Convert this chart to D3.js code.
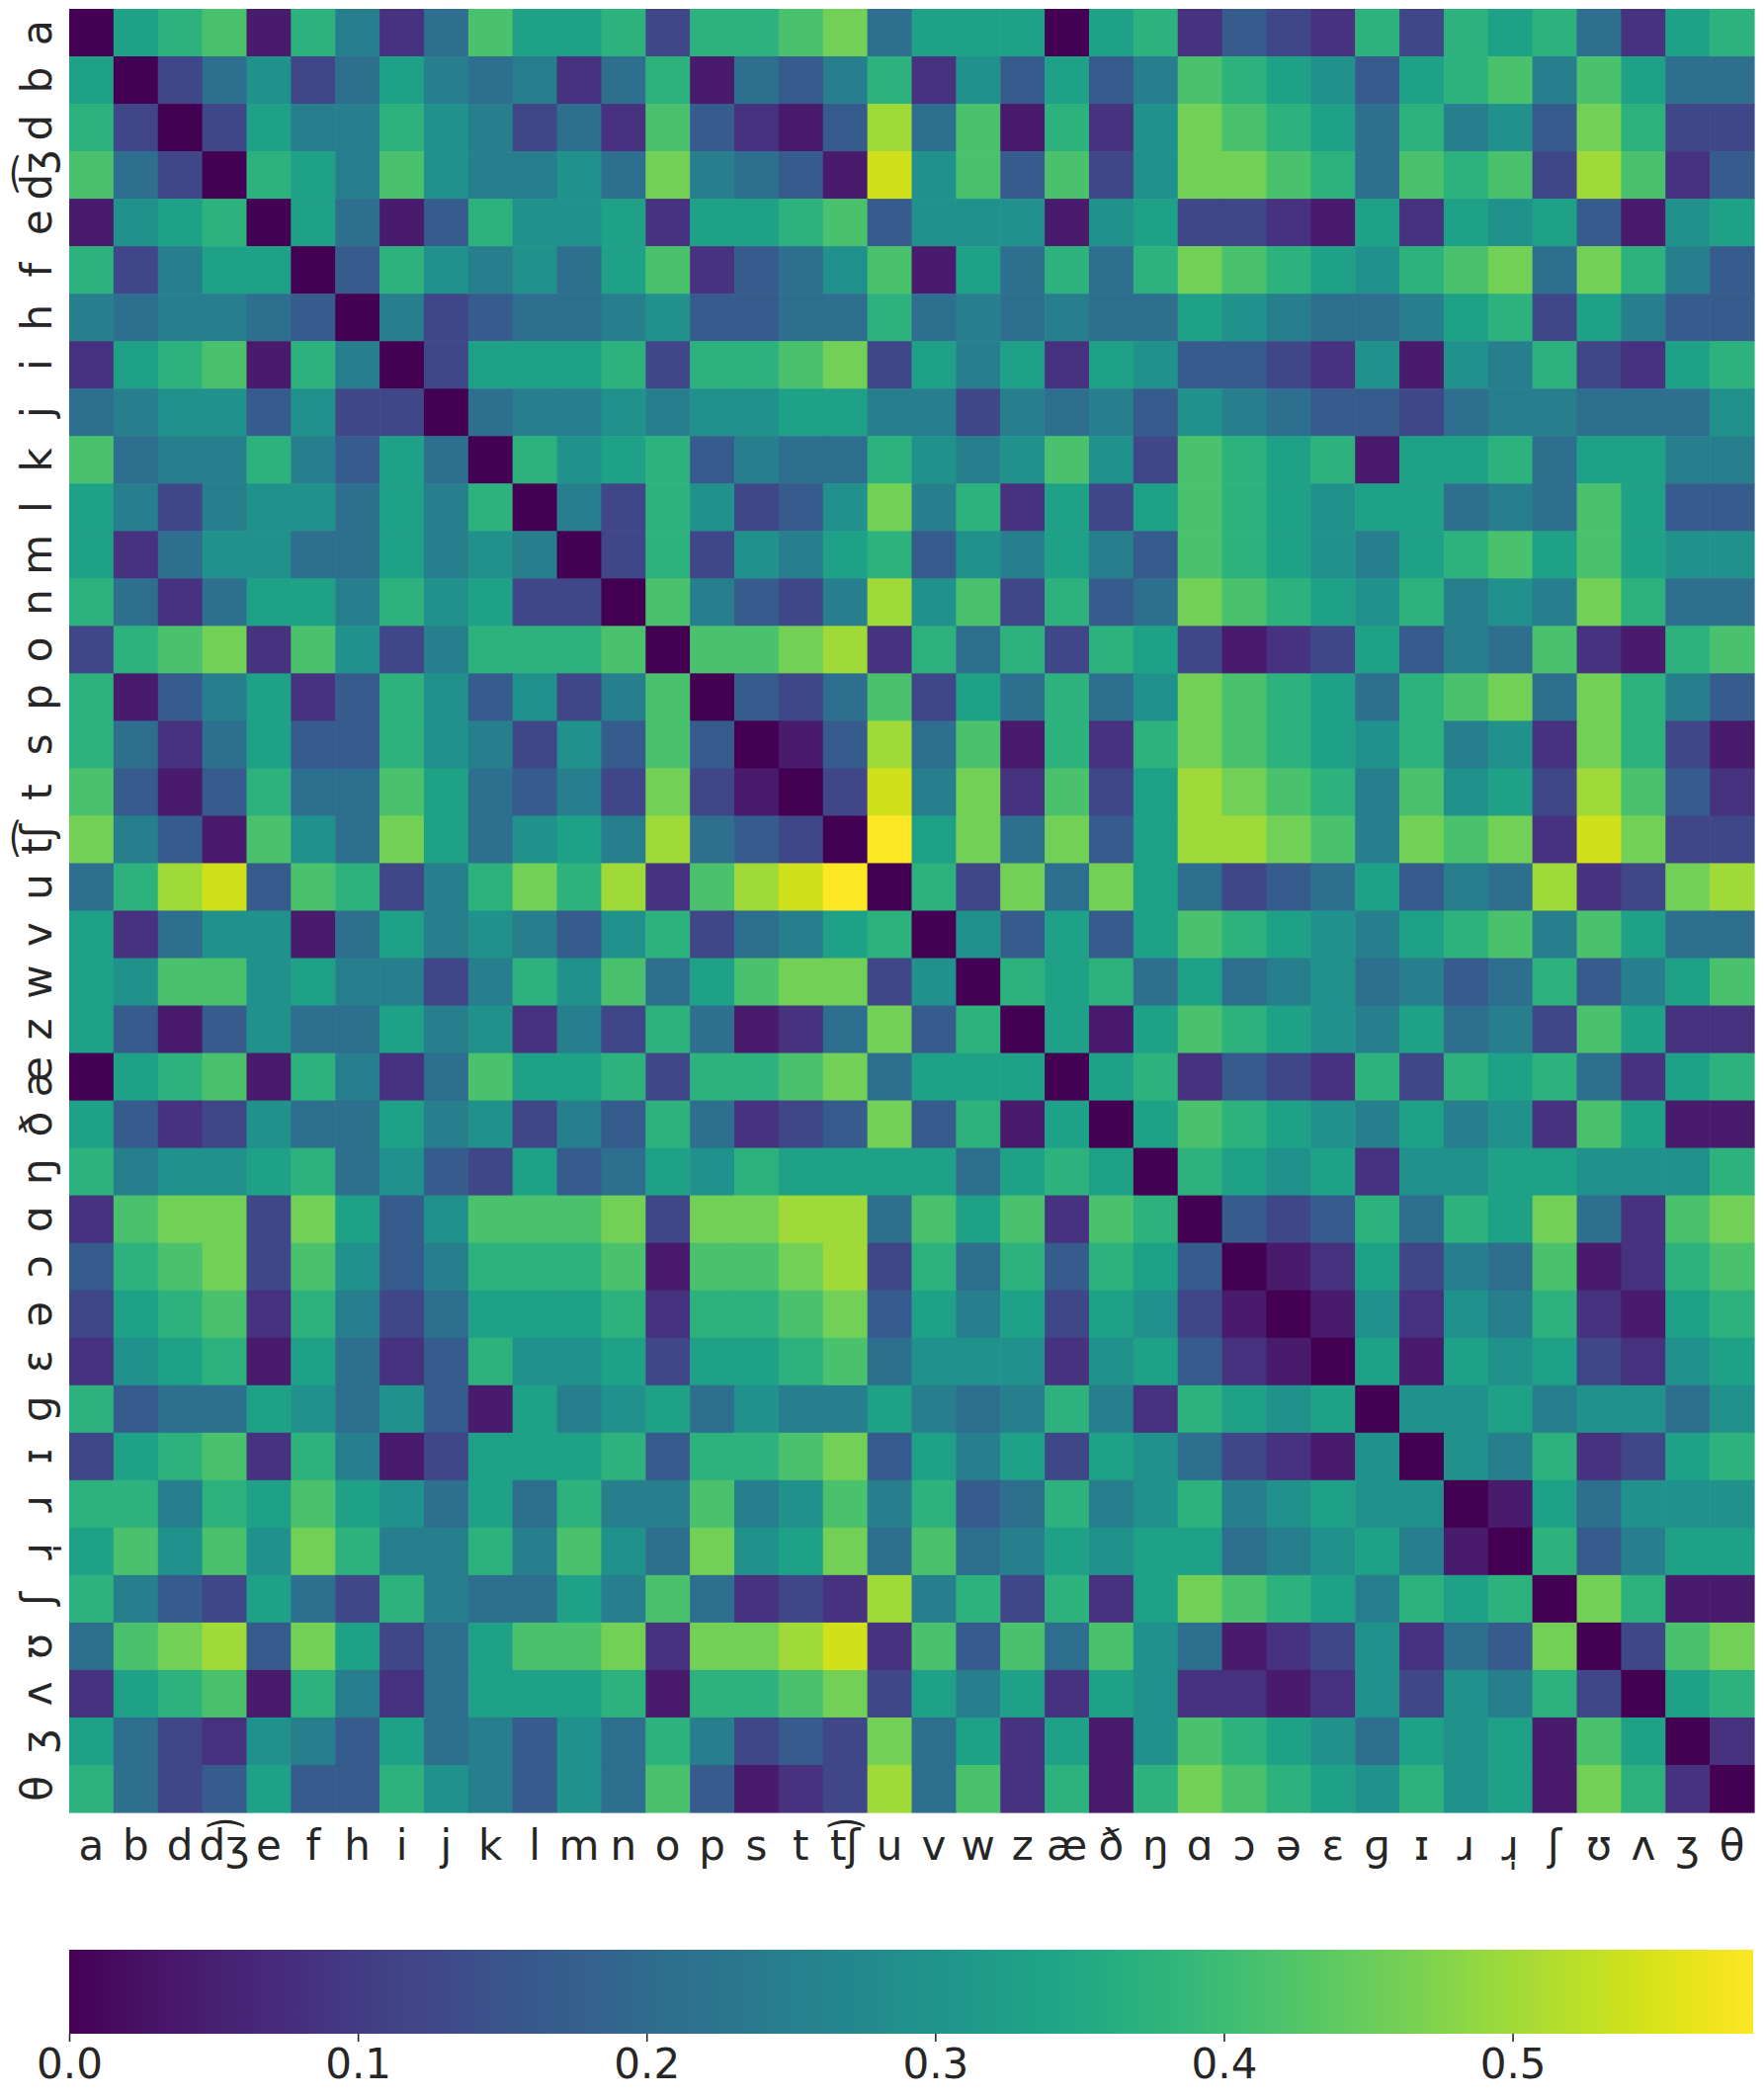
<!DOCTYPE html>
<html>
<head>
<meta charset="utf-8">
<script src="https://cdn.jsdelivr.net/npm/d3@7"></script>
<style>
  body { margin: 0; background: #ffffff; }
  text { font-family: "DejaVu Sans", sans-serif; fill: #262626; }
</style>
</head>
<body>
<script>

// ================================ data
// IPA segments, same order on rows and columns
var phones = ["a", "b", "d", "d\u0361\u0292", "e", "f", "h", "i", "j", "k", "l", "m", "n",
  "o", "p", "s", "t", "t\u0361\u0283", "u", "v", "w", "z", "\u00e6", "\u00f0", "\u014b", "\u0251",
  "\u0254", "\u0259", "\u025b", "\u0261", "\u026a", "\u0279", "\u0279\u0329", "\u0283", "\u028a",
  "\u028c", "\u0292", "\u03b8"];

// number of differing features (out of 24), lower triangle incl. diagonal
// matrix is symmetric so the upper half is the mirror of this
var nFeatures = 24;
var diffLower = [
  [0],
  [8, 0],
  [9, 3, 0],
  [10, 5, 3, 0],
  [1, 7, 8, 9, 0],
  [9, 3, 6, 8, 8, 0],
  [6, 5, 6, 6, 5, 4, 0],
  [2, 8, 9, 10, 1, 9, 6, 0],
  [5, 6, 7, 7, 4, 7, 3, 3, 0],
  [10, 5, 6, 6, 9, 6, 4, 8, 5, 0],
  [8, 6, 3, 6, 7, 7, 5, 8, 6, 9, 0],
  [8, 2, 5, 7, 7, 5, 5, 8, 6, 7, 6, 0],
  [9, 5, 2, 5, 8, 8, 6, 9, 7, 8, 3, 3, 0],
  [3, 9, 10, 11, 2, 10, 7, 3, 6, 9, 9, 9, 10, 0],
  [9, 1, 4, 6, 8, 2, 4, 9, 7, 4, 7, 3, 6, 10, 0],
  [9, 5, 2, 5, 8, 4, 4, 9, 7, 6, 3, 7, 4, 10, 4, 0],
  [10, 4, 1, 4, 9, 5, 5, 10, 8, 5, 4, 6, 3, 11, 3, 1, 0],
  [11, 6, 4, 1, 10, 7, 5, 11, 8, 5, 7, 8, 6, 12, 5, 4, 3, 0],
  [5, 9, 12, 13, 4, 10, 9, 3, 6, 9, 11, 9, 12, 2, 10, 12, 13, 14, 0],
  [8, 2, 5, 7, 7, 1, 5, 8, 6, 7, 6, 4, 7, 9, 3, 5, 6, 8, 9, 0],
  [8, 7, 10, 10, 7, 8, 6, 6, 3, 6, 9, 7, 10, 5, 8, 10, 11, 11, 3, 7, 0],
  [8, 4, 1, 4, 7, 5, 5, 8, 6, 7, 2, 6, 3, 9, 5, 1, 2, 5, 11, 4, 9, 0],
  [0, 8, 9, 10, 1, 9, 6, 2, 5, 10, 8, 8, 9, 3, 9, 9, 10, 11, 5, 8, 8, 8, 0],
  [8, 4, 2, 3, 7, 5, 5, 8, 6, 7, 3, 6, 4, 9, 5, 2, 3, 4, 11, 4, 9, 1, 8, 0],
  [9, 6, 7, 7, 8, 9, 5, 7, 4, 3, 8, 4, 5, 8, 7, 9, 8, 8, 8, 8, 5, 8, 9, 8, 0],
  [2, 10, 11, 11, 3, 11, 8, 4, 7, 10, 10, 10, 11, 3, 11, 11, 12, 12, 5, 10, 8, 10, 2, 10, 9, 0],
  [4, 9, 10, 11, 3, 10, 7, 4, 6, 9, 9, 9, 10, 1, 10, 10, 11, 12, 3, 9, 5, 9, 4, 9, 8, 4, 0],
  [3, 8, 9, 10, 2, 9, 6, 3, 5, 8, 8, 8, 9, 2, 9, 9, 10, 11, 4, 8, 6, 8, 3, 8, 7, 3, 1, 0],
  [2, 7, 8, 9, 1, 8, 5, 2, 4, 9, 7, 7, 8, 3, 8, 8, 9, 10, 5, 7, 7, 7, 2, 7, 8, 4, 2, 1, 0],
  [9, 4, 5, 5, 8, 7, 5, 7, 4, 1, 8, 6, 7, 8, 5, 7, 6, 6, 8, 6, 5, 6, 9, 6, 2, 9, 8, 7, 8, 0],
  [3, 8, 9, 10, 2, 9, 6, 1, 3, 8, 8, 8, 9, 4, 9, 9, 10, 11, 4, 8, 6, 8, 3, 8, 7, 5, 3, 2, 1, 7, 0],
  [9, 9, 6, 9, 8, 10, 8, 7, 5, 8, 5, 9, 6, 6, 10, 6, 7, 10, 6, 9, 4, 5, 9, 6, 7, 9, 6, 7, 8, 7, 7, 0],
  [8, 10, 7, 10, 7, 11, 9, 6, 6, 9, 6, 10, 7, 5, 11, 7, 8, 11, 5, 10, 5, 6, 8, 7, 8, 8, 5, 6, 7, 8, 6, 1, 0],
  [9, 6, 4, 3, 8, 5, 3, 9, 6, 5, 5, 8, 6, 10, 5, 2, 3, 2, 12, 6, 9, 3, 9, 2, 8, 11, 10, 9, 8, 6, 9, 8, 9, 0],
  [5, 10, 11, 12, 4, 11, 8, 3, 5, 8, 10, 10, 11, 2, 11, 11, 12, 13, 2, 10, 4, 10, 5, 10, 7, 5, 1, 2, 3, 7, 2, 5, 4, 11, 0],
  [2, 8, 9, 10, 1, 9, 6, 2, 5, 8, 8, 8, 9, 1, 9, 9, 10, 11, 3, 8, 6, 8, 2, 8, 7, 2, 2, 1, 2, 7, 3, 7, 6, 9, 3, 0],
  [8, 5, 3, 2, 7, 6, 4, 8, 5, 6, 4, 7, 5, 9, 6, 3, 4, 3, 11, 5, 8, 2, 8, 1, 7, 10, 9, 8, 7, 5, 8, 7, 8, 1, 10, 8, 0],
  [9, 5, 3, 4, 8, 4, 4, 9, 7, 6, 4, 7, 5, 10, 4, 1, 2, 3, 12, 5, 10, 2, 9, 1, 9, 11, 10, 9, 8, 7, 9, 7, 8, 1, 11, 9, 2, 0]
];

// colorbar tick labels
var cbarTicks = [0.0, 0.1, 0.2, 0.3, 0.4, 0.5];

// ================================ layout
var svgWidth = 1785;
var svgHeight = 2121;

var heatBox = { left: 70, top: 9, right: 1775, bottom: 1834 };
var cbarBox = { left: 70, right: 1774, top: 1973, height: 85 };
var fontSize = 42;

// full symmetric matrix -> one record per cell
var cells = [];
phones.forEach(function (rowName, i) {
  phones.forEach(function (colName, j) {
    var k = i >= j ? diffLower[i][j] : diffLower[j][i];
    cells.push({ row: rowName, col: colName, value: k / nFeatures });
  });
});

var vmax = d3.max(cells, d => d.value);

var svg = d3.select("body")
  .append("svg")
  .attr("width", svgWidth)
  .attr("height", svgHeight);

// ================================ heatmap
var xBand = d3.scaleBand()
  .domain(phones)
  .range([heatBox.left, heatBox.right])
  .padding(0);

var yBand = d3.scaleBand()
  .domain(phones)
  .range([heatBox.top, heatBox.bottom])
  .padding(0);

var color = d3.scaleSequential(d3.interpolateViridis).domain([0, vmax]);

svg.append("g")
  .selectAll("rect")
  .data(cells)
  .enter()
  .append("rect")
  .attr("x", d => xBand(d.col))
  .attr("y", d => yBand(d.row))
  .attr("width", xBand.bandwidth() + 0.6)
  .attr("height", yBand.bandwidth() + 0.6)
  .attr("fill", d => color(d.value));

// x labels under the grid
svg.append("g")
  .selectAll("text")
  .data(phones)
  .enter()
  .append("text")
  .attr("x", d => xBand(d) + xBand.bandwidth() / 2)
  .attr("y", 1882)
  .attr("text-anchor", "middle")
  .style("font-size", fontSize + "px")
  .text(d => d);

// y labels, turned to read bottom to top
svg.append("g")
  .selectAll("text")
  .data(phones)
  .enter()
  .append("text")
  .attr("transform", d => `translate(52, ${yBand(d) + yBand.bandwidth() / 2}) rotate(-90)`)
  .attr("text-anchor", "middle")
  .style("font-size", fontSize + "px")
  .text(d => d);

// ================================ colorbar
var defs = svg.append("defs");
var grad = defs.append("linearGradient")
  .attr("id", "cbarGrad")
  .attr("x1", "0%").attr("x2", "100%")
  .attr("y1", "0%").attr("y2", "0%");

d3.range(0, 1.0001, 0.02).forEach(function (t) {
  grad.append("stop")
    .attr("offset", (t * 100) + "%")
    .attr("stop-color", d3.interpolateViridis(t));
});

svg.append("rect")
  .attr("x", cbarBox.left)
  .attr("y", cbarBox.top)
  .attr("width", cbarBox.right - cbarBox.left)
  .attr("height", cbarBox.height)
  .attr("fill", "url(#cbarGrad)");

var cbarScale = d3.scaleLinear()
  .domain([0, vmax])
  .range([cbarBox.left, cbarBox.right]);

var cbarAxis = d3.axisBottom(cbarScale)
  .tickValues(cbarTicks)
  .tickFormat(d3.format(".1f"))
  .tickSize(8)
  .tickPadding(7);

var cbarG = svg.append("g")
  .attr("transform", `translate(0, ${cbarBox.top + cbarBox.height})`)
  .call(cbarAxis);

cbarG.select(".domain").remove();
cbarG.selectAll("line").attr("stroke", "#262626").attr("stroke-width", 1.6);
cbarG.selectAll("text")
  .attr("fill", "#262626")
  .style("font-size", fontSize + "px")
  .style("font-family", "'DejaVu Sans', sans-serif");

</script>
</body>
</html>
